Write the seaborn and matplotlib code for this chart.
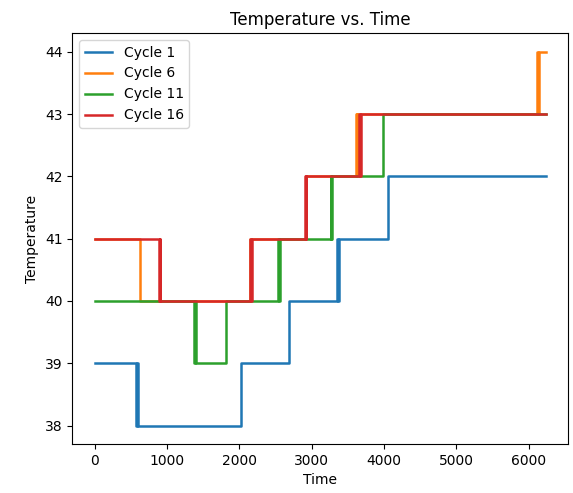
import pandas as pd
import matplotlib
matplotlib.use("Agg")
import matplotlib.pyplot as plt
import seaborn as sns

# change points per cycle (time, temperature) - value holds until next time
c1_time = [0, 570, 582, 594, 2022, 2690, 3355, 3367, 3380, 4057, 6240]
c1_temp = [39, 38, 39, 38, 39, 40, 41, 40, 41, 42, 42]

c6_time = [0, 624, 2150, 2917, 3610, 3622, 3634, 6120, 6132, 6144, 6240]
c6_temp = [41, 40, 41, 42, 43, 42, 43, 44, 43, 44, 44]

c11_time = [0, 1375, 1387, 1399, 1818, 2540, 2552, 2564, 3262, 3274, 3286, 3990, 6240]
c11_temp = [40, 39, 40, 39, 40, 41, 40, 41, 42, 41, 42, 43, 43]

c16_time = [0, 885, 897, 909, 2150, 2162, 2174, 2905, 2917, 2929, 3655, 3667, 3679, 6240]
c16_temp = [41, 40, 41, 40, 41, 40, 41, 42, 41, 42, 43, 42, 43, 43]

cycles = ["Cycle 1", "Cycle 6", "Cycle 11", "Cycle 16"]
times = [c1_time, c6_time, c11_time, c16_time]
temps = [c1_temp, c6_temp, c11_temp, c16_temp]

colors = sns.color_palette("tab10")

fig = plt.figure(figsize=(5.73, 4.93), dpi=100)
ax = fig.add_axes([0.126, 0.099, 0.866, 0.834])

for i, name in enumerate(cycles):
    df = pd.DataFrame({"Time": times[i], "Temperature": temps[i]})
    sns.lineplot(data=df, x="Time", y="Temperature", ax=ax, color=colors[i],
                 label=name, drawstyle="steps-post", estimator=None, sort=False,
                 linewidth=1.8)

ax.set_title("Temperature vs. Time")
ax.set_xlabel("Time")
ax.set_ylabel("Temperature")
ax.set_xticks([0, 1000, 2000, 3000, 4000, 5000, 6000])
ax.set_yticks([38, 39, 40, 41, 42, 43, 44])
ax.legend(loc="upper left")

fig.savefig("out.png", dpi=100)
